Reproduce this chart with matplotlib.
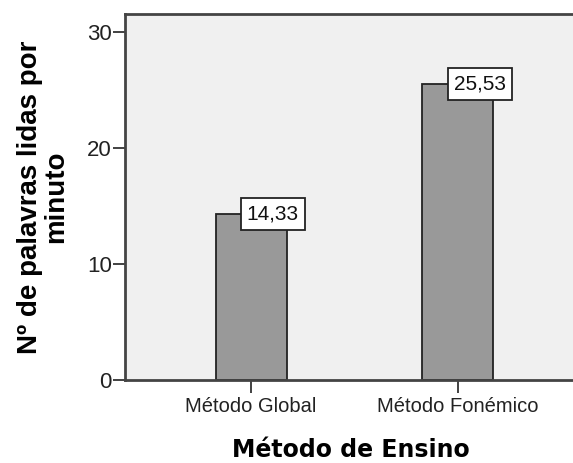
import matplotlib
matplotlib.use("Agg")
import matplotlib.pyplot as plt

categories = ["Método Global", "Método Fonémico"]
values = [14.33, 25.53]
value_labels = ["14,33", "25,53"]
yticks = [0, 10, 20, 30]

W, H = 573, 463
fig = plt.figure(figsize=(W/100, H/100), dpi=100)
ax = fig.add_axes([125/W, (H-380)/H, 459/W, 366/H])
ax.set_facecolor("#f0f0f0")

x = list(range(len(categories)))
ax.bar(x, values, width=0.343, color="#999999", edgecolor="#222222", linewidth=1.3, zorder=2)
ax.set_xlim(-0.609, 1.609)
ax.set_ylim(0, 31.55)

for xi, v, lab in zip(x, values, value_labels):
    ax.annotate(lab, (xi, v), xytext=(-3, 0), textcoords="offset points",
                ha="left", va="center", fontsize=15, family="Liberation Sans",
                color="#111111", zorder=3,
                bbox=dict(boxstyle="square,pad=0.3", fc="white", ec="#222222", lw=1.3))

ax.set_xticks(x)
ax.set_xticklabels(categories, fontsize=14.5, family="Liberation Sans", color="#222222")
ax.set_yticks(yticks)
ax.set_yticklabels([str(t) for t in yticks], fontsize=16, family="Liberation Sans", color="#222222")
ax.tick_params(axis="x", direction="out", length=9, width=1.3, color="#333333", pad=3)
ax.tick_params(axis="y", direction="out", length=9, width=1.3, color="#333333", pad=0.5)

for s in ["left", "bottom", "top", "right"]:
    ax.spines[s].set_color("#444444")
    ax.spines[s].set_linewidth(2)

ax.set_ylabel("Nº de palavras lidas por\nminuto", fontsize=20, fontweight="bold",
              family="Liberation Sans", linespacing=1.0)
ax.yaxis.set_label_coords((69-125)/459, 0.5)
ax.set_xlabel("Método de Ensino", fontsize=17, fontweight="bold", family="DejaVu Sans")
ax.xaxis.set_label_coords((351-125)/459, -0.1575)

fig.savefig("out.png", dpi=100)
